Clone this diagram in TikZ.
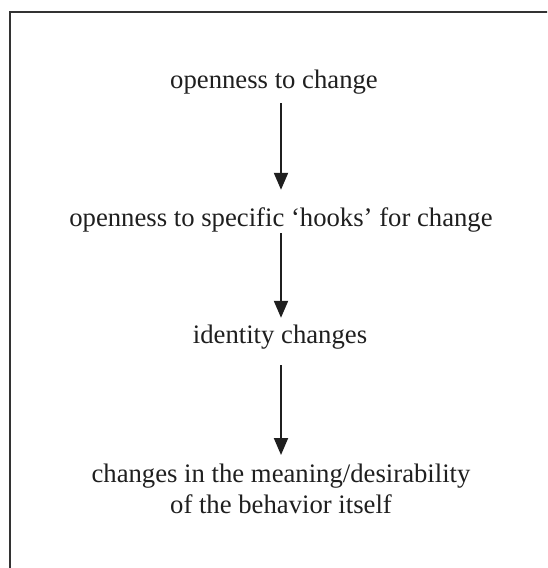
\documentclass[tikz,border=0pt]{standalone}
\usepackage{fontspec}
\setmainfont{Liberation Serif}
\usetikzlibrary{arrows.meta}
\begin{document}
\begin{tikzpicture}[x=1pt,y=-1pt,
  lbl/.style={inner sep=0pt,font=\fontsize{26.7}{31}\selectfont,text=black!88},
  one/.style={lbl,anchor=base,text height=19pt,text depth=6pt},
  arr/.style={draw=black!88,line width=2pt,-{Triangle[width=14pt,length=17pt]}}]
\useasboundingbox (0,0) rectangle (547,568);
\begin{scope}
\clip (0,0) rectangle (547,568);
\draw[black!80,line width=2.5pt] (10,12) rectangle (580,600);
\end{scope}
\node[one] (a) at (274,88) {openness to change};
\node[one] (b) at (281,226) {openness to specific ‘hooks’ for change};
\node[one] (c) at (280,343) {identity changes};
\node[lbl,anchor=north,align=center] (d) at (281,464) {changes in the meaning/desirability\\of the behavior itself};
\draw[arr,shorten <=9pt,shorten >=17pt] (a.south -| b) -- (b.north);
\draw[arr,shorten <=1pt,shorten >=6pt] (b.south) -- (c.north -| b);
\draw[arr,shorten <=16pt,shorten >=9pt] (c.south -| b) -- (d.north -| b);
\end{tikzpicture}
\end{document}
